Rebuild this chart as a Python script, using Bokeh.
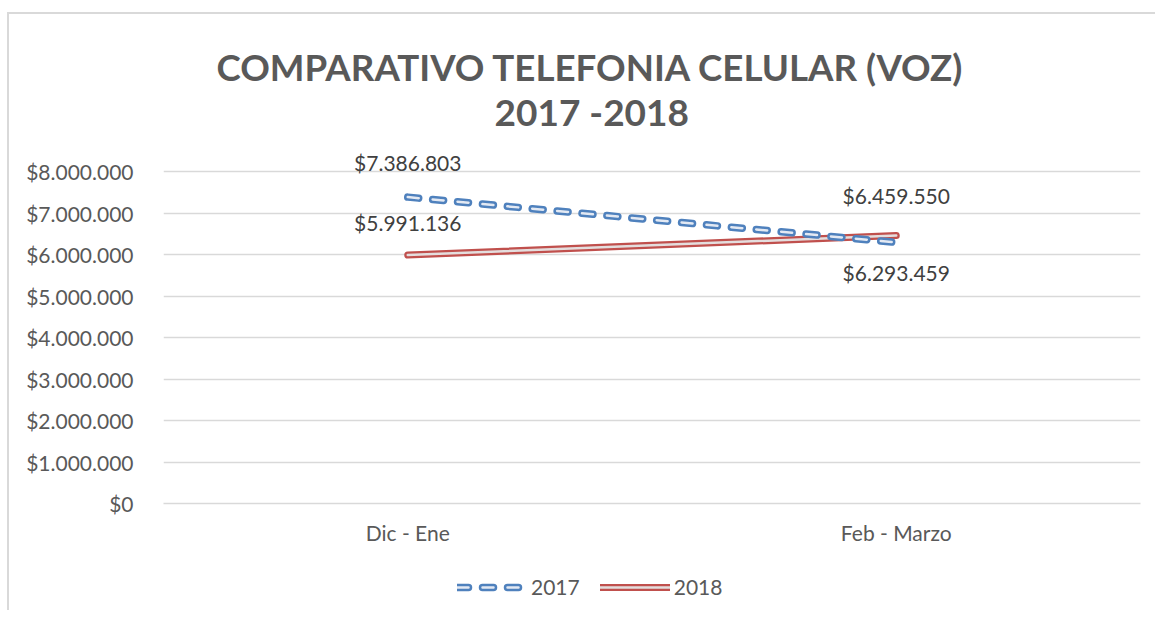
from bokeh.plotting import figure
from bokeh.layouts import column
from bokeh.models import (FactorRange, Range1d, FixedTicker, CustomJSTickFormatter,
                          Legend, LegendItem, Title, ColumnDataSource)
from bokeh.core.properties import value
from bokeh.embed import file_html
from bokeh.resources import INLINE

periods = ["Dic - Ene", "Feb - Marzo"]
v2017 = [7386803, 6293459]
v2018 = [5991136, 6459550]
lab2017 = ["$7.386.803", "$6.293.459"]
lab2018 = ["$5.991.136", "$6.459.550"]
yticks = [0, 1000000, 2000000, 3000000, 4000000, 5000000, 6000000, 7000000, 8000000]

FONT = "Lato"
GRAY = "#595959"

p = figure(width=1146, height=546, output_backend="svg", toolbar_location=None,
           x_range=FactorRange(factors=periods, range_padding=0),
           y_range=Range1d(0, 8800000),
           min_border_left=154, min_border_right=15, min_border_top=124,
           min_border_bottom=57)
p.outline_line_color = None
p.background_fill_color = "white"
p.border_fill_color = "white"

# grid
p.xgrid.grid_line_color = None
p.ygrid.grid_line_color = "#d9d9d9"
p.ygrid.grid_line_width = 1.5

# axes
p.yaxis.ticker = FixedTicker(ticks=yticks)
p.yaxis.formatter = CustomJSTickFormatter(code="""
    return '$' + Math.round(tick).toFixed(0).replace(/\\B(?=(\\d{3})+(?!\\d))/g, '.');
""")
p.yaxis.axis_line_color = None
p.yaxis.major_tick_line_color = None
p.yaxis.minor_tick_line_color = None
p.yaxis.major_label_text_font = FONT
p.yaxis.major_label_text_font_size = "21px"
p.yaxis.major_label_text_color = GRAY
p.yaxis.major_label_standoff = 24

p.xaxis.axis_line_color = "#d9d9d9"
p.xaxis.axis_line_width = 1.5
p.xaxis.major_tick_line_color = None
p.xaxis.minor_tick_line_color = None
p.xaxis.major_label_text_font = FONT
p.xaxis.major_label_text_font_size = "21px"
p.xaxis.major_label_text_color = GRAY
p.xaxis.major_label_standoff = 10

# series
s17 = ColumnDataSource(dict(x=periods, y=v2017, lab=lab2017))
s18 = ColumnDataSource(dict(x=periods, y=v2018, lab=lab2018))

st18o = dict(line_color="#C0504D", line_width=7, line_cap="round")
st18i = dict(line_color="#e4dede", line_width=2.5, line_cap="round")
st17o = dict(line_color="#4F81BD", line_width=7.5, line_dash="11 14", line_cap="round")
st17i = dict(line_color="#e3e9f3", line_width=2.5, line_dash="11 14", line_cap="round")

p.line("x", "y", source=s18, **st18o)
p.line("x", "y", source=s18, **st18i)
p.line("x", "y", source=s17, **st17o)
p.line("x", "y", source=s17, **st17i)

# data labels
lab_font = dict(text_font=value(FONT), text_font_size="21px", text_color="#404040",
                text_align="center", text_baseline="middle")
p.text(x=[periods[0]], y=[v2017[0]], text=[lab2017[0]], y_offset=-35, **lab_font)
p.text(x=[periods[1]], y=[v2017[1]], text=[lab2017[1]], y_offset=30, **lab_font)
p.text(x=[periods[0]], y=[v2018[0]], text=[lab2018[0]], y_offset=-33, **lab_font)
p.text(x=[periods[1]], y=[v2018[1]], text=[lab2018[1]], y_offset=-40, **lab_font)

# title (two lines)
t2 = Title(text="2017 -2018", text_font=FONT, text_font_size="37px",
           text_font_style="bold", text_color=GRAY, align="left", offset=331,
           standoff=10)
t1 = Title(text="COMPARATIVO TELEFONIA CELULAR (VOZ)", text_font=FONT,
           text_font_size="36.7px", text_font_style="bold", text_color=GRAY,
           align="left", offset=53, standoff=-14)
p.add_layout(t2, "above")
p.add_layout(t1, "above")

# legend strip (separate figure below, same series styles)
lg = figure(width=1146, height=50, output_backend="svg", toolbar_location=None,
            x_range=FactorRange(factors=periods, range_padding=0),
            y_range=Range1d(100000000, 100000001),
            min_border=0, x_axis_location=None, y_axis_location=None)
lg.outline_line_color = None
lg.xgrid.grid_line_color = None
lg.ygrid.grid_line_color = None
a18o = lg.line("x", "y", source=s18, **st18o)
a18i = lg.line("x", "y", source=s18, **st18i)
a17o = lg.line("x", "y", source=s17, **st17o)
a17i = lg.line("x", "y", source=s17, **st17i)
legend = Legend(items=[LegendItem(label="2017", renderers=[a17o, a17i]),
                       LegendItem(label="2018", renderers=[a18o, a18i])],
                orientation="horizontal", border_line_color=None,
                background_fill_alpha=0,
                label_text_font=FONT, label_text_font_size="21px",
                label_text_color=GRAY, glyph_width=70, glyph_height=20,
                spacing=20, label_standoff=4, padding=0, margin=0,
                location=(294, 11))
lg.add_layout(legend)

layout = column(p, lg, spacing=0,
                styles={"border-left": "2px solid #d9d9d9",
                        "border-top": "2px solid #d9d9d9",
                        "margin-left": "7px", "margin-top": "12px"})
open("out.html", "w").write(file_html(layout, INLINE))
